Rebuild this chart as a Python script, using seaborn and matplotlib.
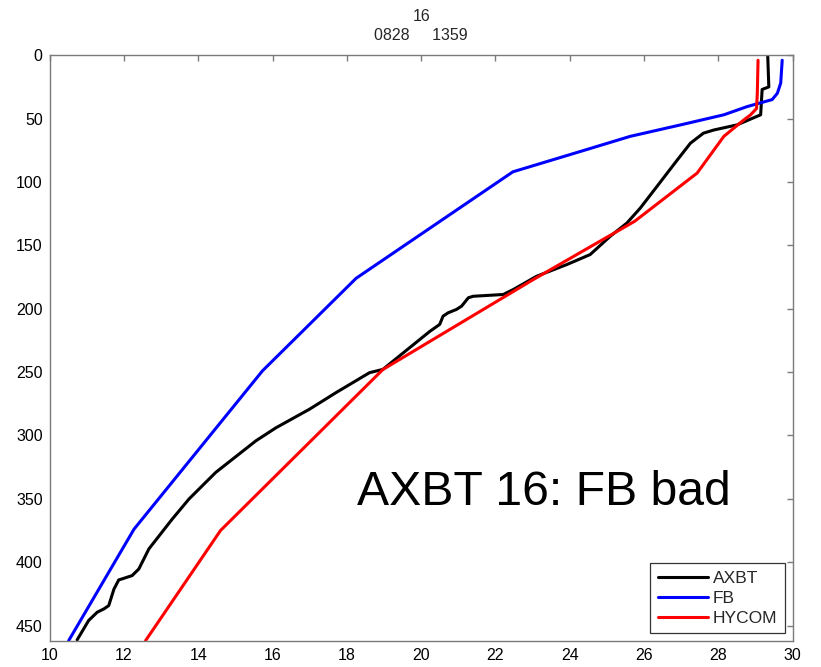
import matplotlib
matplotlib.use("Agg")
import matplotlib.pyplot as plt
import seaborn as sns
import pandas as pd

# Temperature (deg C) versus depth (m) profiles for drop 16
axbt_temp = [29.33, 29.36, 29.18, 29.14, 28.50, 27.88, 27.60, 27.25, 26.90, 26.35,
             25.90, 25.54, 25.09, 24.55, 23.92, 23.11, 22.48, 22.21, 21.40, 21.27,
             21.09, 20.95, 20.73, 20.59, 20.50, 20.23, 19.69, 18.97, 18.61, 17.71,
             16.99, 16.09, 15.55, 14.47, 13.75, 13.30, 12.67, 12.58, 12.40, 12.22,
             11.95, 11.86, 11.73, 11.59, 11.46, 11.28, 11.05, 10.74]
axbt_depth = [0, 25, 27, 47, 55, 59, 61.5, 69.4, 82.5, 103.5,
              120.6, 132.4, 142.9, 157.3, 165.2, 174.4, 184.9, 188.8, 190.2, 191.4,
              198, 200.6, 203.2, 205.9, 212.4, 218, 230.8, 247.9, 250.5, 266.2,
              279.4, 294, 304.3, 329.2, 350.2, 366, 389.6, 394.9, 405.4, 410.6,
              413.2, 414, 421.3, 434.3, 436.9, 439.5, 446, 461.3]

fb_temp = [29.72, 29.68, 29.59, 29.45, 28.78, 28.15, 26.98, 25.63, 24.28, 22.47,
           18.25, 15.73, 12.27, 10.51]
fb_depth = [4, 22, 30, 35, 40.5, 47, 55, 64, 76, 92,
            176, 249, 374, 462]

hycom_temp = [29.07, 29.05, 29.03, 28.87, 28.69, 28.15, 27.43, 25.75, 23.02, 18.97,
              14.60, 12.58]
hycom_depth = [4, 30, 42, 47, 51, 64, 93, 131, 177, 248,
               375, 462]

series_names = ["AXBT", "FB", "HYCOM"]
series_colors = ["#000000", "#0000ff", "#ff0000"]

x_ticks = [10, 12, 14, 16, 18, 20, 22, 24, 26, 28, 30]
y_ticks = [0, 50, 100, 150, 200, 250, 300, 350, 400, 450]

profiles = pd.concat([
    pd.DataFrame({"temp": axbt_temp, "depth": axbt_depth, "source": "AXBT"}),
    pd.DataFrame({"temp": fb_temp, "depth": fb_depth, "source": "FB"}),
    pd.DataFrame({"temp": hycom_temp, "depth": hycom_depth, "source": "HYCOM"}),
], ignore_index=True)

sns.set_theme(style="white")
plt.rcParams["font.family"] = ["Liberation Sans", "DejaVu Sans"]

fig = plt.figure(figsize=(8.21, 6.67), dpi=100)
ax = fig.add_axes([0.0605, 0.0394, 0.9049, 0.8778])

sns.lineplot(data=profiles, x="temp", y="depth", hue="source",
             hue_order=series_names, palette=series_colors,
             sort=False, estimator=None, linewidth=2.2, ax=ax)

ax.set_xlim(10, 30)
ax.set_ylim(462, 0)
ax.set_xticks(x_ticks)
ax.set_yticks(y_ticks)
ax.set_xlabel("")
ax.set_ylabel("")

for spine in ax.spines.values():
    spine.set_visible(True)
    spine.set_color("#7a7a7a")
    spine.set_linewidth(1.0)

ax.tick_params(axis="both", which="both", direction="in", length=4.5,
               width=1.0, color="#7a7a7a", labelsize=11.5, labelcolor="black",
               top=True, right=True, pad=5)

ax.set_title("16\n0828     1359", fontsize=11.5, pad=11, linespacing=1.3)

ax.text(0.414, 0.253, "AXBT 16: FB bad", transform=ax.transAxes,
        fontsize=34.7, ha="left", va="center", color="black")

handles, labels = ax.get_legend_handles_labels()
leg = ax.legend(handles, labels, loc="lower right", fontsize=12.5,
                frameon=True, fancybox=False, framealpha=1.0,
                edgecolor="#333333", handlelength=2.87, handletextpad=0.3,
                labelspacing=0.28, borderpad=0.45, borderaxespad=0.42)
leg.get_frame().set_linewidth(0.9)
for line in leg.get_lines():
    line.set_linewidth(2.2)

fig.savefig("out.png", dpi=100)
